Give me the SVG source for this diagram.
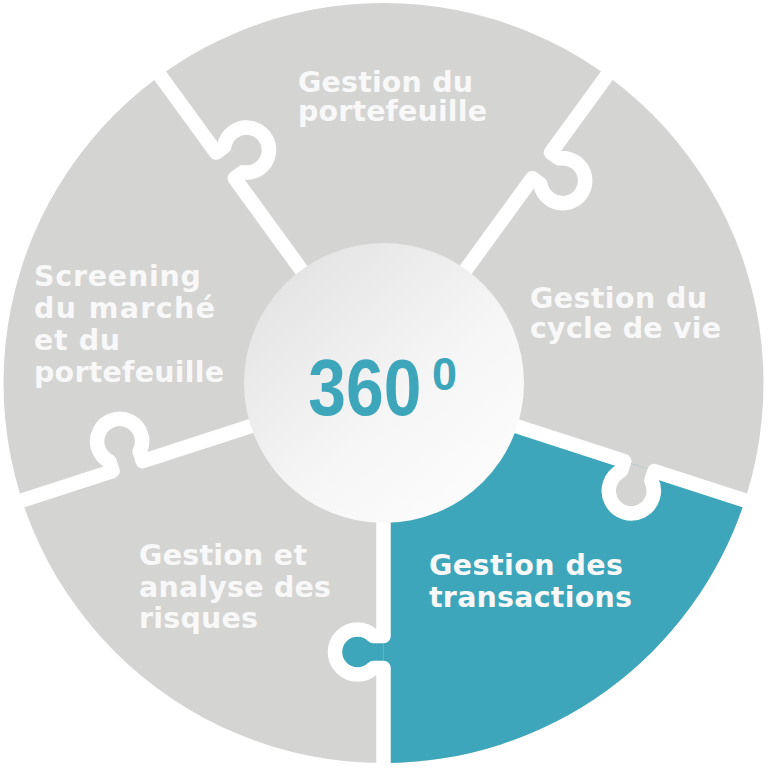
<svg xmlns="http://www.w3.org/2000/svg" xmlns:xlink="http://www.w3.org/1999/xlink" width="768" height="768" viewBox="0 0 768 768">
<style>
.lbl{font-family:'DejaVu Sans','Open Sans',sans-serif;font-weight:bold;font-size:28.5px;fill:#f8f8f8}
.div{fill:none;stroke:#ffffff;stroke-width:14.5;stroke-linejoin:round;stroke-linecap:butt}
.num{font-family:'Liberation Sans',Arial,sans-serif;font-weight:bold;fill:#3ea6ba}
</style>
<defs>
<path id="divider" class="div" d="M0,-130 L0,-253.1 L10.1,-253.1 A22.5,22.5 0 1 0 10.1,-284.9 L0,-284.9 L0,-400"/>
<g id="tab"><circle cx="26" cy="-269" r="22.5"/><rect x="0" y="-285" width="26" height="32"/></g>
<linearGradient id="cg" x1="0.15" y1="0.1" x2="0.85" y2="0.9">
<stop offset="0" stop-color="#e4e4e4"/>
<stop offset="0.6" stop-color="#f6f6f6"/>
<stop offset="1" stop-color="#fcfcfc"/>
</linearGradient>
</defs>

<g id="segments">
<circle cx="383.5" cy="383" r="380" fill="#d4d4d3"/>
<path id="teal-wedge" d="M383.5,383 L744.9,500.4 A380,380 0 0 1 383.5,763 Z" fill="#3ea6ba"/>
<use xlink:href="#tab" transform="translate(383.5 383) rotate(108)" fill="#d4d4d3"/>
<use xlink:href="#tab" transform="translate(383.5 383) rotate(180)" fill="#3ea6ba"/>
</g>

<g id="connectors">
<use xlink:href="#divider" transform="translate(383.5 383) rotate(-36)"/>
<use xlink:href="#divider" transform="translate(383.5 383) rotate(36)"/>
<use xlink:href="#divider" transform="translate(383.5 383) rotate(108)"/>
<use xlink:href="#divider" transform="translate(383.5 383) rotate(180)"/>
<use xlink:href="#divider" transform="translate(383.5 383) rotate(252)"/>
</g>

<g id="center">
<circle cx="384" cy="383" r="140" fill="url(#cg)"/>
<text class="num" x="308.3" y="415" font-size="79" textLength="113" lengthAdjust="spacingAndGlyphs">360</text>
<text class="num" x="432" y="390" font-size="46" textLength="25" lengthAdjust="spacingAndGlyphs">0</text>
</g>

<g id="node-portefeuille">
<text class="lbl" x="298" y="92" textLength="175" lengthAdjust="spacing">Gestion du</text>
<text class="lbl" x="298" y="121" textLength="189" lengthAdjust="spacing">portefeuille</text>
</g>

<g id="node-cycle">
<text class="lbl" x="530" y="308" textLength="177" lengthAdjust="spacing">Gestion du</text>
<text class="lbl" x="530" y="338" textLength="191" lengthAdjust="spacing">cycle de vie</text>
</g>

<g id="node-transactions">
<text class="lbl" x="429" y="575" textLength="194" lengthAdjust="spacing">Gestion des</text>
<text class="lbl" x="429" y="607" textLength="203" lengthAdjust="spacing">transactions</text>
</g>

<g id="node-risques">
<text class="lbl" x="139" y="565" textLength="168" lengthAdjust="spacing">Gestion et</text>
<text class="lbl" x="139" y="597" textLength="192" lengthAdjust="spacing">analyse des</text>
<text class="lbl" x="139" y="628" textLength="119" lengthAdjust="spacing">risques</text>
</g>

<g id="node-screening">
<text class="lbl" x="34" y="286" textLength="167" lengthAdjust="spacing">Screening</text>
<text class="lbl" x="34" y="318" textLength="181" lengthAdjust="spacing">du marché</text>
<text class="lbl" x="34" y="350" textLength="86" lengthAdjust="spacing">et du</text>
<text class="lbl" x="34" y="382" textLength="190" lengthAdjust="spacing">portefeuille</text>
</g>
</svg>
